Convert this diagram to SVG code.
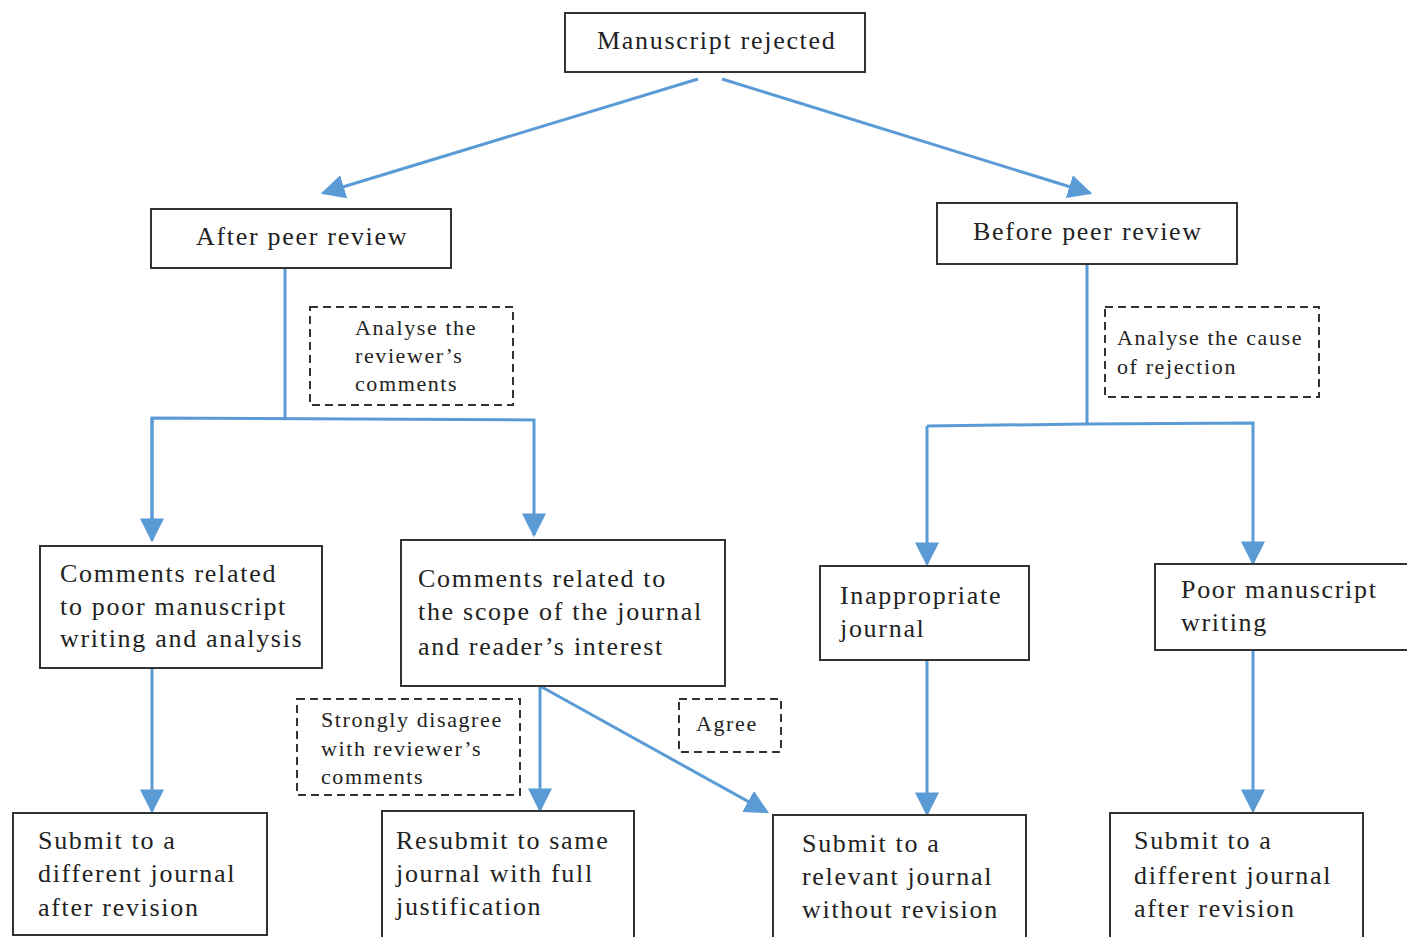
<svg xmlns="http://www.w3.org/2000/svg" width="1407" height="937" viewBox="0 0 1407 937">
<style>
.box{fill:#fff;stroke:#333;stroke-width:2}
.dash{fill:#fff;stroke:#333;stroke-width:2;stroke-dasharray:8 5}
.t{font-family:"Liberation Serif",serif;font-size:26px;letter-spacing:1.7px;fill:#222}
.s{font-family:"Liberation Serif",serif;font-size:22px;letter-spacing:1.6px;fill:#222}
.c{fill:none;stroke:#5B9BD5;stroke-width:3}
</style>
<defs>
<marker id="ah" viewBox="0 0 10 10" refX="9" refY="5" markerUnits="userSpaceOnUse" markerWidth="24" markerHeight="28" orient="auto">
<path d="M0,0 L10,5 L0,10 Z" fill="#5B9BD5"/>
</marker>
</defs>
<g id="connectors">
<line class="c" x1="698" y1="79" x2="323" y2="193" marker-end="url(#ah)"/>
<line class="c" x1="722" y1="79" x2="1090" y2="193" marker-end="url(#ah)"/>
<polyline class="c" points="285,268 285,418"/>
<polyline class="c" points="152,540 152,418 534,420 534,535" marker-end="url(#ah)"/>
<line class="c" x1="152" y1="418" x2="152" y2="540" marker-end="url(#ah)"/>
<polyline class="c" points="1087,264 1087,424"/>
<line class="c" x1="927" y1="426" x2="927" y2="564" marker-end="url(#ah)"/>
<polyline class="c" points="927,426 1087,424 1253,423 1253,563" marker-end="url(#ah)"/>
<line class="c" x1="152" y1="668" x2="152" y2="811" marker-end="url(#ah)"/>
<line class="c" x1="540" y1="686" x2="540" y2="810" marker-end="url(#ah)"/>
<line class="c" x1="540" y1="686" x2="767" y2="812" marker-end="url(#ah)"/>
<line class="c" x1="927" y1="660" x2="927" y2="814" marker-end="url(#ah)"/>
<line class="c" x1="1253" y1="650" x2="1253" y2="811" marker-end="url(#ah)"/>
</g>
<g id="manuscript-rejected"><rect class="box" x="565" y="13" width="300" height="59"/><text class="t" x="597" y="49">Manuscript rejected</text></g>
<g id="after-peer-review"><rect class="box" x="151" y="209" width="300" height="59"/><text class="t" x="196" y="245">After peer review</text></g>
<g id="before-peer-review"><rect class="box" x="937" y="203" width="300" height="61"/><text class="t" x="973" y="240">Before peer review</text></g>
<g id="analyse-comments"><rect class="dash" x="310" y="307" width="203" height="98"/><text class="s" x="355" y="335">Analyse the</text><text class="s" x="355" y="363">reviewer’s</text><text class="s" x="355" y="391">comments</text></g>
<g id="analyse-cause"><rect class="dash" x="1105" y="307" width="214" height="90"/><text class="s" x="1117" y="345">Analyse the cause</text><text class="s" x="1117" y="374">of rejection</text></g>
<g id="comments-poor"><rect class="box" x="40" y="546" width="282" height="122"/><text class="t" x="60" y="582">Comments related</text><text class="t" x="60" y="615">to poor manuscript</text><text class="t" x="60" y="647">writing and analysis</text></g>
<g id="comments-scope"><rect class="box" x="401" y="540" width="324" height="146"/><text class="t" x="418" y="587">Comments related to</text><text class="t" x="418" y="620">the scope of the journal</text><text class="t" x="418" y="655">and reader’s interest</text></g>
<g id="inappropriate"><rect class="box" x="820" y="566" width="209" height="94"/><text class="t" x="840" y="604">Inappropriate</text><text class="t" x="840" y="637">journal</text></g>
<g id="poor-writing"><rect class="box" x="1155" y="564" width="256" height="86"/><text class="t" x="1181" y="598">Poor manuscript</text><text class="t" x="1181" y="631">writing</text></g>
<g id="strongly-disagree"><rect class="dash" x="297" y="699" width="223" height="96"/><text class="s" x="321" y="727">Strongly disagree</text><text class="s" x="321" y="756">with reviewer’s</text><text class="s" x="321" y="784">comments</text></g>
<g id="agree"><rect class="dash" x="679" y="699" width="102" height="53"/><text class="s" x="696" y="731">Agree</text></g>
<g id="submit-different-left"><rect class="box" x="13" y="813" width="254" height="122"/><text class="t" x="38" y="849">Submit to a</text><text class="t" x="38" y="882">different journal</text><text class="t" x="38" y="916">after revision</text></g>
<g id="resubmit"><rect class="box" x="382" y="811" width="252" height="130"/><text class="t" x="396" y="849">Resubmit to same</text><text class="t" x="396" y="882">journal with full</text><text class="t" x="396" y="915">justification</text></g>
<g id="submit-relevant"><rect class="box" x="773" y="815" width="253" height="126"/><text class="t" x="802" y="852">Submit to a</text><text class="t" x="802" y="885">relevant journal</text><text class="t" x="802" y="918">without revision</text></g>
<g id="submit-different-right"><rect class="box" x="1110" y="813" width="253" height="128"/><text class="t" x="1134" y="849">Submit to a</text><text class="t" x="1134" y="884">different journal</text><text class="t" x="1134" y="917">after revision</text></g>
</svg>
